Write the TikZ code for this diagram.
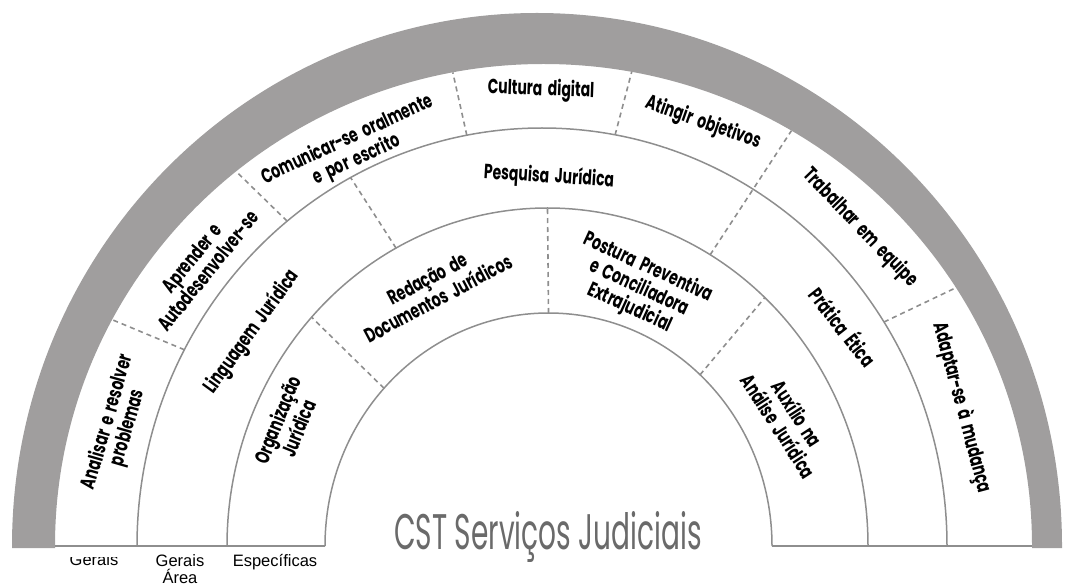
\documentclass[tikz,border=0pt]{standalone}
\usepackage{fontspec}
\usepackage{graphicx}
\newfontfamily\cond{Poppins}
\newfontfamily\narrow{Liberation Sans}
\usetikzlibrary{calc}
\definecolor{band}{HTML}{A09E9E}
\definecolor{ln}{HTML}{8E8E8E}
\definecolor{titlegray}{HTML}{6A6A6A}
\newcommand\cl[1]{\scalebox{0.68}[1]{\spaceskip=0.4em plus 0.1em\begin{tabular}{@{}c@{}}#1\end{tabular}}}
\begin{document}
\begin{tikzpicture}[x=1pt,y=1pt,
  lbl/.style={font=\cond\bfseries\fontsize{20.5}{19}\selectfont, inner sep=0pt},
  arcline/.style={draw=ln, line width=1.5pt},
  divider/.style={draw=ln, line width=1.6pt, dash pattern=on 5pt off 4pt},
  foot/.style={font=\narrow\fontsize{16.5}{17.5}\selectfont, align=center, inner sep=0pt}]
\useasboundingbox (0,0) rectangle (1068,587);
\coordinate (c1) at (548.5,41);
\coordinate (c2) at (547.5,41);
\coordinate (c3) at (542,41);
\coordinate (c4) at (543.5,41);
% gray outer band
\fill[band] (12,39) -- (12,41) arc[start angle=180,end angle=0,x radius=525,y radius=533]
  -- (1062,39) -- (1032,39) -- (1032,41) arc[start angle=0,end angle=180,x radius=488.5,y radius=482]
  -- (55,39) -- cycle;
% ring arcs
\draw[arcline] (137,41) arc[start angle=180,end angle=0,x radius=405,y radius=418];
\draw[arcline] (227,41) arc[start angle=180,end angle=0,x radius=320.5,y radius=338];
\draw[arcline] (325,41) arc[start angle=180,end angle=0,x radius=223.5,y radius=233];
\draw[arcline] (55,41) -- (325,41);
\draw[arcline] (772,41) -- (1032,41);
% dividers, outer band
\draw[divider] ($(c3)+(152:405 and 418)$) -- ($(c4)+(152:488.5 and 482)$);
\draw[divider] ($(c3)+(129:405 and 418)$) -- ($(c4)+(129:488.5 and 482)$);
\draw[divider] ($(c3)+(100.7:405 and 418)$) -- ($(c4)+(100.7:488.5 and 482)$);
\draw[divider] ($(c3)+(79.6:405 and 418)$) -- ($(c4)+(79.6:488.5 and 482)$);
\draw[divider] ($(c2)+(59.5:320.5 and 338)$) -- ($(c4)+(59.5:488.5 and 482)$);
\draw[divider] ($(c3)+(32.4:405 and 418)$) -- ($(c4)+(32.4:488.5 and 482)$);
% middle band
\draw[divider] ($(c2)+(118.2:320.5 and 338)$) -- ($(c3)+(118.2:405 and 418)$);
% inner band
\draw[divider] ($(c1)+(137.4:223.5 and 233)$) -- ($(c2)+(137.4:320.5 and 338)$);
\draw[divider] ($(c1)+(90:223.5 and 233)$) -- ($(c2)+(90:320.5 and 338)$);
\draw[divider] ($(c1)+(47.3:223.5 and 233)$) -- ($(c2)+(47.3:320.5 and 338)$);
% outer band labels
\node[lbl, rotate=74] (l1) at (118,162) {\cl{Analisar e resolver\\problemas}};
\node[lbl, rotate=51] (l2) at (202,321) {\cl{Aprender e\\Autodesenvolver-se}};
\node[lbl, rotate=25] (l3) at (352,437) {\cl{Comunicar-se oralmente\\e por escrito}};
\node[lbl, rotate=-2] (l4) at (541,497) {\cl{Cultura digital}};
\node[lbl, rotate=-19.5] (l5) at (703,464) {\cl{Atingir objetivos}};
\node[lbl, rotate=-46] (l6) at (860,359) {\cl{Trabalhar em equipe}};
\node[lbl, rotate=-75] (l7) at (962,179) {\cl{Adaptar-se à mudança}};
% middle band labels
\node[lbl, rotate=54] (m1) at (252,255) {\cl{Linguagem Jurídica}};
\node[lbl, rotate=-3.5] (m2) at (549,410) {\cl{Pesquisa Jurídica}};
\node[lbl, rotate=-52] (m3) at (842,259) {\cl{Prática Ética}};
% inner band labels
\node[lbl, rotate=68] (i1) at (290,162) {\cl{Organização\\Jurídica}};
\node[lbl, rotate=28] (i2) at (434,296) {\cl{Redação de\\Documentos Jurídicos}};
\node[lbl, rotate=-24.6] (i3) at (639,299) {\cl{Postura Preventiva\\e Conciliadora\\Extrajudicial}};
\node[lbl, rotate=-57] (i4) at (786,166) {\cl{Auxílio na\\Análise Jurídica}};
% title
\node[inner sep=0pt, text=titlegray, font=\cond\fontsize{50}{50}\selectfont] (t) at (548,50) {\scalebox{0.56}[1]{CST Serviços Judiciais}};
% footer labels
\begin{scope}
\clip (55,30) rectangle (137,0);
\node[foot] (f1) at (94,27) {Gerais};
\end{scope}
\node[foot, anchor=north] (f2) at (180,33) {Gerais\\Área};
\node[foot, anchor=north] (f3) at (275,33) {Específicas};
\end{tikzpicture}
\end{document}
